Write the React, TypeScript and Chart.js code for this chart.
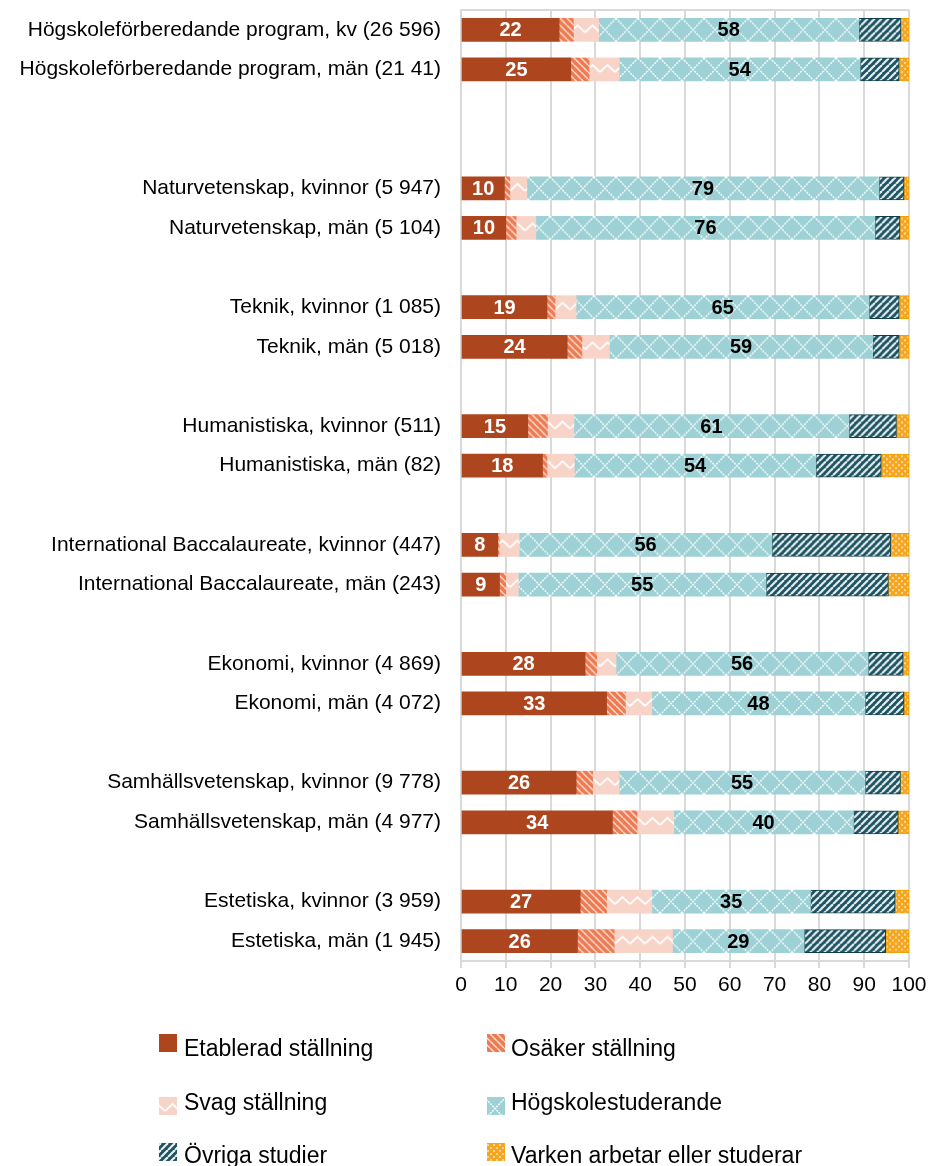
import React, { useEffect, useRef } from 'react';
import { Chart, registerables } from 'chart.js';

Chart.register(...registerables);

const categories: string[] = [
  'Högskoleförberedande program, kv (26 596)',
  'Högskoleförberedande program, män (21 41)',
  '',
  '',
  'Naturvetenskap, kvinnor (5 947)',
  'Naturvetenskap, män (5 104)',
  '',
  'Teknik, kvinnor (1 085)',
  'Teknik, män (5 018)',
  '',
  'Humanistiska, kvinnor (511)',
  'Humanistiska, män (82)',
  '',
  'International Baccalaureate, kvinnor (447)',
  'International Baccalaureate, män (243)',
  '',
  'Ekonomi, kvinnor (4 869)',
  'Ekonomi, män (4 072)',
  '',
  'Samhällsvetenskap, kvinnor (9 778)',
  'Samhällsvetenskap, män (4 977)',
  '',
  'Estetiska, kvinnor (3 959)',
  'Estetiska, män (1 945)',
];

const etablerad = [21.9, 24.5, null, null, 9.7, 10.0, null, 19.2, 23.7, null, 14.9, 18.2, null, 8.2, 8.6, null, 27.7, 32.5, null, 25.7, 33.8, null, 26.6, 26.0];
const osaker = [3.2, 4.1, null, null, 1.2, 2.3, null, 1.8, 3.3, null, 4.4, 1.0, null, 0.3, 1.4, null, 2.6, 4.2, null, 3.7, 5.5, null, 5.9, 8.2];
const svag = [5.6, 6.7, null, null, 3.8, 4.4, null, 4.7, 6.1, null, 5.9, 6.1, null, 4.5, 2.8, null, 4.3, 5.9, null, 5.9, 8.2, null, 10.1, 13.0];
const hogskole = [58.1, 53.8, null, null, 78.6, 75.7, null, 65.4, 58.8, null, 61.4, 53.9, null, 56.4, 55.3, null, 56.3, 47.6, null, 54.9, 40.1, null, 35.4, 29.4];
const ovriga = [9.4, 8.7, null, null, 5.6, 5.6, null, 6.7, 5.9, null, 10.6, 14.6, null, 26.5, 27.3, null, 7.8, 8.7, null, 7.9, 10.0, null, 18.9, 18.2];
const varken = [1.8, 2.2, null, null, 1.1, 2.0, null, 2.2, 2.2, null, 2.8, 6.2, null, 4.1, 4.6, null, 1.3, 1.1, null, 1.9, 2.4, null, 3.1, 5.2];

const seriesNames = [
  'Etablerad ställning',
  'Osäker ställning',
  'Svag ställning',
  'Högskolestuderande',
  'Övriga studier',
  'Varken arbetar eller studerar',
];

const xTicks = [0, 10, 20, 30, 40, 50, 60, 70, 80, 90, 100];

const FONT = '"Liberation Sans", Arial, Helvetica, sans-serif';

function tile(w: number, h: number, draw: (g: CanvasRenderingContext2D) => void) {
  const c = document.createElement('canvas');
  c.width = w;
  c.height = h;
  const g = c.getContext('2d')!;
  draw(g);
  return c;
}

export default function App() {
  const ref = useRef<HTMLCanvasElement | null>(null);

  useEffect(() => {
    const canvas = ref.current!;
    const ctx = canvas.getContext('2d')!;

    const tEtab = tile(4, 4, (g) => {
      g.fillStyle = '#AD451F';
      g.fillRect(0, 0, 4, 4);
    });
    const tOsaker = tile(7, 7, (g) => {
      g.fillStyle = '#EE7A52';
      g.fillRect(0, 0, 7, 7);
      g.strokeStyle = 'rgba(255,255,255,0.75)';
      g.lineWidth = 1.5;
      for (const k of [-7, 0, 7]) {
        g.beginPath();
        g.moveTo(k, 0);
        g.lineTo(k + 7, 7);
        g.stroke();
      }
    });
    const tSvag = tile(15, 23, (g) => {
      g.fillStyle = '#F8D4C8';
      g.fillRect(0, 0, 15, 23);
      g.strokeStyle = 'rgba(255,255,255,0.95)';
      g.lineWidth = 1.8;
      g.beginPath();
      g.moveTo(0, 14);
      g.lineTo(7.5, 7);
      g.lineTo(15, 14);
      g.stroke();
    });
    const tHog = tile(22, 23, (g) => {
      g.fillStyle = '#9DD1D5';
      g.fillRect(0, 0, 22, 23);
      g.strokeStyle = 'rgba(255,255,255,0.9)';
      g.lineWidth = 1.5;
      g.setLineDash([2, 1]);
      g.beginPath();
      g.moveTo(0, 0);
      g.lineTo(22, 23);
      g.moveTo(22, 0);
      g.lineTo(0, 23);
      g.stroke();
    });
    const tOvriga = tile(7, 7, (g) => {
      g.fillStyle = '#1B5361';
      g.fillRect(0, 0, 7, 7);
      g.strokeStyle = 'rgba(255,255,255,0.9)';
      g.lineWidth = 2.2;
      for (const k of [-7, 0, 7]) {
        g.beginPath();
        g.moveTo(k, 7);
        g.lineTo(k + 7, 0);
        g.stroke();
      }
    });
    const tVarken = tile(6, 6, (g) => {
      g.fillStyle = '#F6A51F';
      g.fillRect(0, 0, 6, 6);
      g.fillStyle = 'rgba(255,255,255,0.55)';
      g.fillRect(1, 1, 2, 2);
      g.fillRect(4, 4, 2, 2);
    });

    const tiles = [tEtab, tOsaker, tSvag, tHog, tOvriga, tVarken];
    const flat = ['#AD451F', '#EE7A52', '#F8D4C8', '#9DD1D5', '#1B5361', '#F6A51F'];
    const borders = ['#AD451F', '#EE7A52', '#F8D4C8', '#9DD1D5', '#0F3F4A', '#F2A000'];
    const borderW = [0, 0, 0, 0, 1, 1];
    const values = [etablerad, osaker, svag, hogskole, ovriga, varken];

    const mkPattern = (i: number, dy: number) => {
      const p = ctx.createPattern(tiles[i], 'repeat')!;
      if (dy) p.setTransform(new DOMMatrix([1, 0, 0, 1, 0, dy]));
      return p;
    };

    const bg = (i: number) => (c: any) => {
      const chart = c.chart;
      const ys = chart.scales && chart.scales.y;
      if (!ys || c.dataIndex === undefined) return flat[i];
      const py = ys.getPixelForValue(c.dataIndex) - 11.5;
      return mkPattern(i, py);
    };

    const dataLabels = {
      id: 'dataLabels',
      afterDatasetsDraw(chart: any) {
        const g = chart.ctx;
        g.save();
        g.font = `bold 20px ${FONT}`;
        g.textAlign = 'center';
        g.textBaseline = 'middle';
        [0, 3].forEach((di) => {
          const meta = chart.getDatasetMeta(di);
          const color = di === 0 ? '#FFFFFF' : '#000000';
          meta.data.forEach((el: any, idx: number) => {
            const v = values[di][idx];
            if (v === null || v === undefined) return;
            g.fillStyle = color;
            g.fillText(String(Math.round(v as number)), (el.x + el.base) / 2, el.y + 1);
          });
        });
        g.restore();
      },
    };

    const topLine = {
      id: 'topLine',
      beforeDatasetsDraw(chart: any) {
        const { left, right, top } = chart.chartArea;
        const g = chart.ctx;
        g.save();
        g.strokeStyle = '#D9D9D9';
        g.lineWidth = 2;
        g.beginPath();
        g.moveTo(left, top);
        g.lineTo(right, top);
        g.stroke();
        g.restore();
      },
    };

    const legendPlugin = {
      id: 'customLegend',
      afterDraw(chart: any) {
        const g = chart.ctx;
        const colSq = [159, 487];
        const colTx = [184, 511];
        const rowY = [1050, 1104, 1157];
        const sqTop = [1034, 1097, 1143];
        g.save();
        g.font = `23px ${FONT}`;
        g.textAlign = 'left';
        g.textBaseline = 'middle';
        seriesNames.forEach((name, i) => {
          const col = i % 2;
          const row = Math.floor(i / 2);
          const top = sqTop[row];
          g.fillStyle = mkPattern(i, top);
          g.fillRect(colSq[col], top, 18, 18);
          g.fillStyle = '#000000';
          g.fillText(name, colTx[col], rowY[row]);
        });
        g.restore();
      },
    };

    const zeroPad = (s: any) => {
      s.paddingTop = 0;
      s.paddingBottom = 0;
    };

    const chart = new Chart(ctx, {
      type: 'bar',
      data: {
        labels: categories,
        datasets: seriesNames.map((name, i) => ({
          label: name,
          data: values[i] as any,
          backgroundColor: bg(i) as any,
          borderColor: borders[i],
          borderWidth: borderW[i],
          borderSkipped: false,
          barThickness: 23,
        })),
      },
      options: {
        indexAxis: 'y',
        responsive: false,
        animation: false,
        devicePixelRatio: 1,
        layout: { padding: { left: 0, top: 10, right: 25, bottom: 165 } },
        plugins: {
          legend: { display: false },
          tooltip: { enabled: false },
        },
        scales: {
          x: {
            stacked: true,
            min: 0,
            max: 100,
            afterBuildTicks: (s: any) => {
              s.ticks = xTicks.map((v) => ({ value: v }));
            },
            afterFit: (s: any) => {
              s.height = 40;
            },
            ticks: {
              color: '#000000',
              font: { size: 21, family: FONT },
              padding: 5,
              maxRotation: 0,
            },
            grid: { color: '#D9D9D9', lineWidth: 2, tickLength: 7 },
            border: { color: '#D9D9D9', width: 2 },
          },
          y: {
            stacked: true,
            afterFit: (s: any) => {
              s.width = 461;
              zeroPad(s);
            },
            ticks: {
              color: '#000000',
              font: { size: 21, family: FONT },
              padding: 20,
              autoSkip: false,
            },
            grid: { display: false, drawTicks: false, tickLength: 0 },
            border: { color: '#D9D9D9', width: 2 },
          },
        },
      },
      plugins: [topLine, dataLabels, legendPlugin],
    });

    return () => chart.destroy();
  }, []);

  return (
    <div style={{ position: 'absolute', left: 0, top: 0, width: 934, height: 1166, background: '#fff' }}>
      <canvas ref={ref} width={934} height={1166} style={{ display: 'block' }} />
    </div>
  );
}
